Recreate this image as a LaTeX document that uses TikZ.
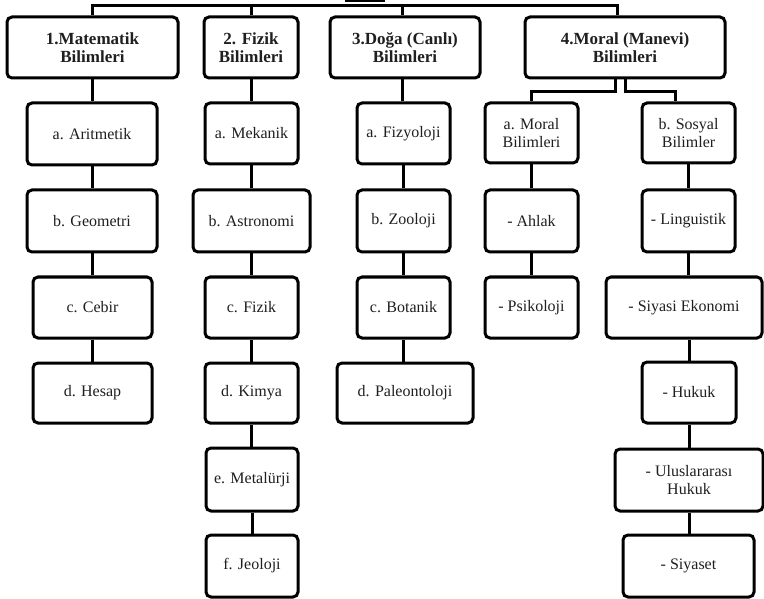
\documentclass[tikz,border=0pt]{standalone}
\usepackage{fontspec}
\setmainfont{Liberation Serif}
\begin{document}
\begin{tikzpicture}[x=1pt,y=-1pt,
  box/.style={draw=black,line width=3pt,rounded corners=5pt,fill=white,inner sep=0pt,align=center,
    font=\fontsize{16}{18}\selectfont,text=black!88},
  topbox/.style={box,font=\fontsize{17}{18}\selectfont\bfseries},
  conn/.style={draw=black,line width=3pt}]
\useasboundingbox (0,0) rectangle (764,599);
\newcommand\bx[7][box]{\node[#1,minimum width={(#5-#3)*1pt},minimum height={(#6-#4)*1pt}] (#2) at ({(#3+#5)/2},{(#4+#6)/2}) {#7};}
% top row
\bx[topbox]{mat}{7}{17}{178}{78}{1.Matematik\\Bilimleri}
\bx[topbox]{fiz}{204}{17}{298}{78}{2. Fizik\\Bilimleri}
\bx[topbox]{dog}{330}{17}{480}{78}{3.Doğa (Canlı)\\Bilimleri}
\bx[topbox]{mor}{525}{17}{725}{78}{4.Moral (Manevi)\\Bilimleri}
% column 1
\bx{ma}{27}{103}{157}{165}{a. Aritmetik}
\bx{mb}{27}{190}{157}{252}{b. Geometri}
\bx{mc}{33}{277}{152}{338}{c. Cebir}
\bx{md}{33}{363}{152}{423}{d. Hesap}
% column 2
\bx{fa}{205}{103}{298}{164}{a. Mekanik}
\bx{fb}{193}{190}{310}{252}{b. Astronomi}
\bx{fc}{205}{277}{298}{338}{c. Fizik}
\bx{fd}{205}{363}{298}{423}{d. Kimya}
\bx{fe}{206}{448}{298}{511}{e. Metalürji}
\bx{ff}{206}{535}{298}{597}{f. Jeoloji}
% column 3
\bx{da}{357}{103}{450}{164}{a. Fizyoloji}
\bx{db}{357}{190}{450}{252}{b. Zooloji}
\bx{dc}{357}{277}{450}{338}{c. Botanik}
\bx{dd}{337}{363}{473}{423}{d. Paleontoloji}
% column 4a
\bx{ra}{485}{103}{578}{163}{a. Moral\\Bilimleri}
\bx{rb}{485}{190}{578}{252}{- Ahlak}
\bx{rc}{485}{277}{578}{338}{- Psikoloji}
% column 4b
\bx{sa}{642}{103}{735}{163}{b. Sosyal\\Bilimler}
\bx{sb}{642}{190}{735}{252}{- Linguistik}
\bx{sc}{606}{277}{762}{338}{- Siyasi Ekonomi}
\bx{sd}{642}{362}{736}{423}{- Hukuk}
\bx{se}{615}{449}{763}{511}{- Uluslararası\\Hukuk}
\bx{sf}{623}{535}{754}{597}{- Siyaset}
% top bus
\coordinate (busL) at (93,6);
\coordinate (busR) at (617,6);
\coordinate (busD) at (402,6);
\draw[conn,line join=miter] (mat.north) -- (mat.north |- busL) -- (busR) -- (busR |- mor.north);
\draw[conn] (fiz.north) -- (fiz.north |- busL);
\draw[conn] (busD) -- (busD |- dog.north);
\coordinate (rootA) at (345,1.5);
\coordinate (rootB) at (385,1.5);
\draw[conn,line width=2pt] (rootA) -- (rootB);
% moral split
\coordinate (mL) at (615,92);
\coordinate (mR) at (625,92);
\draw[conn,line join=miter] (mL |- mor.south) -- (mL) -- (ra.north |- mL) -- (ra.north);
\draw[conn,line join=miter] (mR |- mor.south) -- (mR) -- (675,92) coordinate (mR2) -- (mR2 |- sa.north);
% vertical chains
\foreach \u/\l in {ma/mb,mb/mc,mc/md,fa/fb,fb/fc,fc/fd,fd/fe,fe/ff,da/db,db/dc,dc/dd,ra/rb,rb/rc,sa/sb,sb/sc,sd/se,se/sf}
  \draw[conn] (\u.south) -- (\u.south |- \l.north);
\draw[conn] (sc.south -| sd.north) -- (sd.north);
\draw[conn] (mat.south) -- (mat.south |- ma.north);
\draw[conn] (fiz.south) -- (fiz.south |- fa.north);
\draw[conn] (da.north -| busD) -- (busD |- dog.south);
\end{tikzpicture}
\end{document}
